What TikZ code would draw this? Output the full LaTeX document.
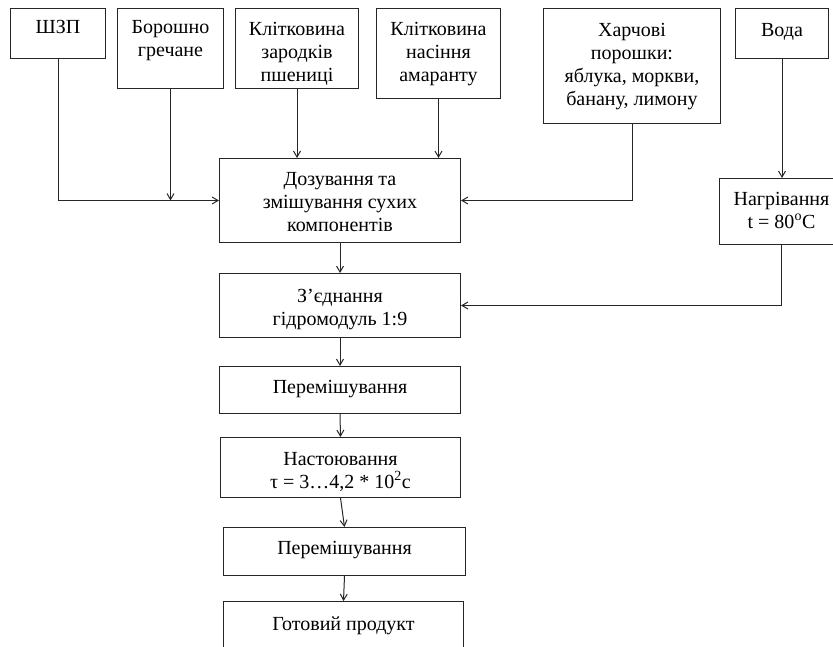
\documentclass[tikz,border=0pt]{standalone}
\usepackage{fontspec}
\setmainfont{Liberation Serif}
\usetikzlibrary{arrows.meta,positioning}

\tikzset{
    box/.style={draw=black!85, line width=1pt, anchor=north west, inner sep=0pt},
    txt/.style={font=\fontsize{20}{23}\selectfont, align=center, inner sep=0pt, anchor=north, yshift=-14pt},
    flow/.style={draw=black!85, line width=1pt, -{Straight Barb[length=6pt,width=7pt]}}
}

\begin{document}
\begin{tikzpicture}[x=1pt, y=-1pt]

    % Fix the page to the size of the reference
    \useasboundingbox (0,0) rectangle (833,646);
    \clip (0,0) rectangle (833,646);

    % Raw materials along the top
    \node[box, minimum width=95pt, minimum height=50pt, label={[txt,yshift=1.5pt]90:ШЗП}] (shzp) at (10,8) {};
    \node[box, minimum width=106pt, minimum height=80pt, label={[txt,yshift=1.5pt]90:Борошно\\гречане}] (flour) at (117,8) {};
    \node[box, minimum width=123pt, minimum height=80pt, label={[txt]90:Клітковина\\зародків\\пшениці}] (wheat) at (235,8) {};
    \node[box, minimum width=124pt, minimum height=90pt, label={[txt]90:Клітковина\\насіння\\амаранту}] (amar) at (376,8) {};
    \node[box, minimum width=177pt, minimum height=115pt, label={[txt,yshift=-1pt]90:Харчові\\порошки:\\яблука, моркви,\\банану, лимону}] (powder) at (543,8) {};
    \node[box, minimum width=93pt, minimum height=50pt, label={[txt,yshift=-1pt]90:Вода}] (water) at (735,8) {};

    % Process steps
    \node[box, minimum width=241pt, minimum height=84pt, label={[txt]90:Дозування та\\змішування сухих\\компонентів}] (dose) at (219,158) {};
    \node[box, minimum width=124pt, minimum height=66pt, label={[txt]90:Нагрівання\\t = 80\textsuperscript{o}C}] (heat) at (719,178) {};
    \node[box, minimum width=241pt, minimum height=64pt, label={[txt,yshift=-1.5pt]90:З’єднання\\гідромодуль 1:9}] (join) at (219,273) {};
    \node[box, minimum width=241pt, minimum height=47pt, label={[txt]90:Перемішування}] (mix1) at (219,366) {};
    \node[box, minimum width=240pt, minimum height=60pt, label={[txt,yshift=-1pt]90:Настоювання\\τ = 3…4,2 * 10\textsuperscript{2}с}] (steep) at (220,437) {};
    \node[box, minimum width=242pt, minimum height=48pt, label={[txt]90:Перемішування}] (mix2) at (223,527) {};
    \node[box, minimum width=240pt, minimum height=70pt, label={[txt,yshift=-2pt]90:Готовий продукт}] (prod) at (223,601) {};

    % Inputs into dosing
    \draw[flow] (shzp.south) |- (dose.west);
    \draw[flow] (flour.south) -- (flour.south |- dose.west);
    \draw[flow] (wheat.south) -- (wheat.south |- dose.north);
    \draw[flow] (amar.south) -- (amar.south |- dose.north);
    \draw[flow] (powder.south) |- (dose.east);

    % Water line
    \draw[flow] (water.south) -- (water.south |- heat.north);
    \draw[flow] (heat.south) |- (join.east);

    % Main line
    \draw[flow] (dose.south) -- (join.north);
    \draw[flow] (join.south) -- (mix1.north);
    \draw[flow] (mix1.south) -- (steep.north);
    \draw[flow] (steep.south) -- (mix2.north);
    \draw[flow] (mix2.south) -- (prod.north);

\end{tikzpicture}
\end{document}
